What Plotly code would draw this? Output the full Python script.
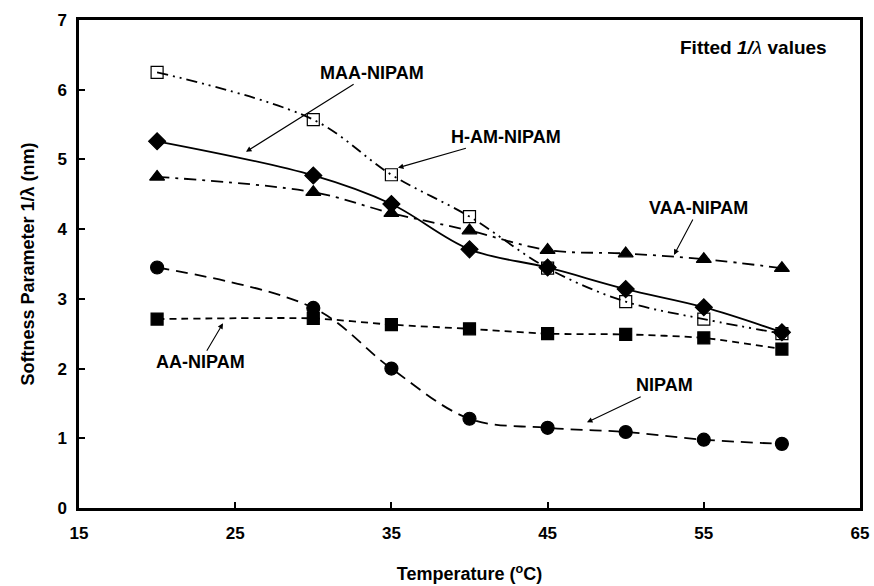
import plotly.graph_objects as go

temps = [20, 30, 35, 40, 45, 50, 55, 60]
maa_nipam = [5.26, 4.77, 4.36, 3.71, 3.45, 3.14, 2.88, 2.52]
ham_nipam = [6.25, 5.57, 4.78, 4.18, 3.44, 2.96, 2.71, 2.50]
vaa_nipam = [4.75, 4.53, 4.23, 3.98, 3.70, 3.65, 3.57, 3.44]
nipam = [3.45, 2.87, 2.00, 1.28, 1.15, 1.09, 0.98, 0.92]
aa_nipam = [2.71, 2.72, 2.63, 2.57, 2.50, 2.49, 2.44, 2.28]

FONT = "Liberation Sans, Arial, sans-serif"

fig = go.Figure()

def add(y, symbol, dash, fill="black", size=11, smoothing=1.0):
    fig.add_trace(go.Scatter(
        x=temps, y=y, mode="lines+markers",
        line=dict(color="black", width=1.8, dash=dash, shape="spline", smoothing=smoothing),
        marker=dict(symbol=symbol, size=size, color=fill,
                    line=dict(color="black", width=1.2)),
        showlegend=False))

add(ham_nipam, "square-open", "11px,5px,2px,5px,2px,5px", size=12)
add(vaa_nipam, "triangle-up", "12px,6px,3px,6px", size=13)
add(aa_nipam, "square", "7px,5px", size=12, smoothing=0.6)
add(nipam, "circle", "12px,7px", size=13)
add(maa_nipam, "diamond", "solid", size=13)

ann_font = dict(family=FONT, size=18, color="black")

def label(text, x, y, ax, ay):
    fig.add_annotation(x=x, y=y, ax=ax, ay=ay, text="<b>%s</b>" % text,
                       showarrow=True, arrowhead=2, arrowsize=1, arrowwidth=1.1,
                       arrowcolor="black", standoff=0, startstandoff=0,
                       font=ann_font)

label("MAA-NIPAM", 25.69, 5.11, 126, -79)
label("H-AM-NIPAM", 35.42, 4.88, 108, -31)
label("VAA-NIPAM", 53.09, 3.63, 25, -47)
label("NIPAM", 47.52, 1.23, 78, -37)
label("AA-NIPAM", 24.22, 2.65, -23, 39)

fig.add_annotation(x=58.2, y=6.6, text="<b>Fitted <i>1/</i></b><i>λ</i><b> values</b>",
                   showarrow=False, font=dict(family=FONT, size=19, color="black"))

axis_common = dict(
    showgrid=False, zeroline=False, showline=True, linecolor="black", linewidth=2.5,
    mirror=True, ticks="inside", ticklen=6, tickwidth=2, tickcolor="black",
    tickfont=dict(family=FONT, size=17, color="black", weight="bold"),
)

fig.update_xaxes(range=[15, 65], tick0=15, dtick=10, ticklabelstandoff=8,
                 title=dict(text="<b>Temperature (<sup>o</sup>C)</b>",
                            font=dict(family=FONT, size=18, color="black"), standoff=26),
                 **axis_common)
fig.update_yaxes(range=[0, 7], dtick=1, ticklabelstandoff=6,
                 title=dict(text="<b>Softness Parameter 1/λ (nm)</b>",
                            font=dict(family=FONT, size=18, color="black"), standoff=19),
                 **axis_common)

fig.update_layout(
    width=874, height=586,
    margin=dict(l=79, r=14, t=20, b=78, autoexpand=False),
    paper_bgcolor="white", plot_bgcolor="white",
)

fig.write_html("out.html")
